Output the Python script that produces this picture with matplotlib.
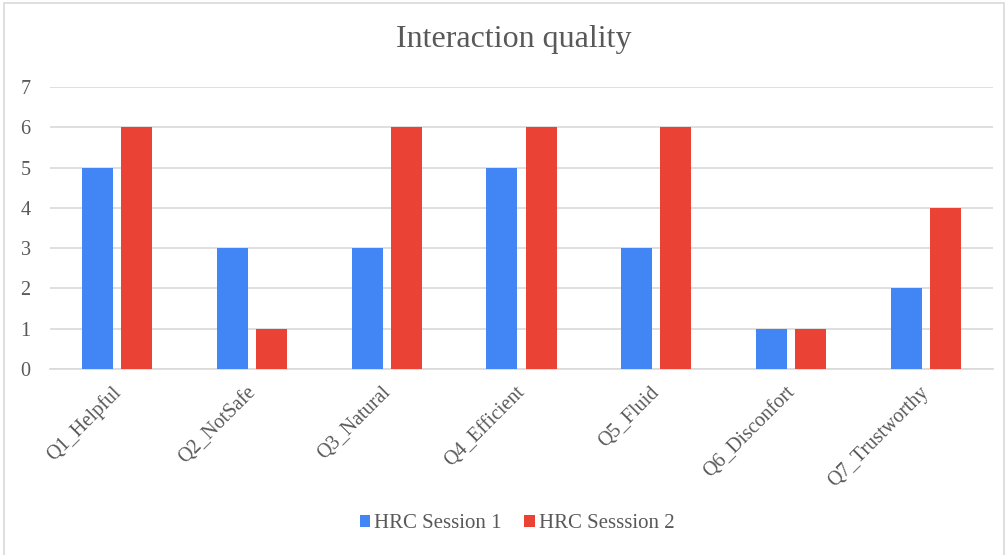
import numpy as np
import matplotlib.pyplot as plt
from matplotlib.patches import Rectangle
from matplotlib.transforms import ScaledTranslation

categories = ['Q1_Helpful', 'Q2_NotSafe', 'Q3_Natural', 'Q4_Efficient',
              'Q5_Fluid', 'Q6_Disconfort', 'Q7_Trustworthy']
session1 = [5, 3, 3, 5, 3, 1, 2]
session2 = [6, 1, 6, 6, 6, 1, 4]
labels = ['HRC Session 1', 'HRC Sesssion 2']

plt.rcParams['font.family'] = ['Liberation Serif', 'DejaVu Serif']
txt = '#595959'

fig = plt.figure(figsize=(10.08, 5.55), dpi=100)
fig.patches.append(Rectangle((0.004, -0.01), 0.992, 1.004, transform=fig.transFigure,
                             fill=False, edgecolor='#D9D9D9', linewidth=1.2))
ax = fig.add_axes([50 / 1008, 1 - 369 / 555, 943 / 1008, 282 / 555])

x = np.arange(len(categories))
w = 0.23
ax.bar(x - 0.03 - w / 2, session1, w, color='#4285F4', label=labels[0], zorder=3)
ax.bar(x + 0.03 + w / 2, session2, w, color='#EA4335', label=labels[1], zorder=3)

ax.set_xlim(-0.5, len(categories) - 0.5)
ax.set_ylim(0, 7)
ax.set_yticks(range(8))
ax.yaxis.grid(True, color='#D9D9D9', linewidth=1.2, zorder=0)
ax.set_axisbelow(True)
for s in ['top', 'right', 'left']:
    ax.spines[s].set_visible(False)
ax.spines['bottom'].set_color('#D9D9D9')
ax.spines['bottom'].set_linewidth(1.2)
ax.tick_params(axis='both', length=0, colors=txt, labelsize=14.5)
ax.tick_params(axis='y', pad=14)
ax.set_xticks(x)
ax.set_xticklabels(categories, rotation=45, ha='right', rotation_mode='anchor')
shift = ScaledTranslation(-6 / 100, -9 / 100, fig.dpi_scale_trans)
for t in ax.get_xticklabels():
    t.set_transform(t.get_transform() + shift)

fig.text(0.5 + 10 / 1008, 1 - 40 / 555, 'Interaction quality', ha='center', va='center',
         fontsize=23, color=txt)
fig.legend(loc='center', bbox_to_anchor=(0.513, 1 - 524 / 555), ncol=2, frameon=False,
           fontsize=15, labelcolor=txt, handlelength=0.5, handleheight=0.5,
           handletextpad=0.2, columnspacing=1.07)

fig.savefig('out.png', dpi=100)
